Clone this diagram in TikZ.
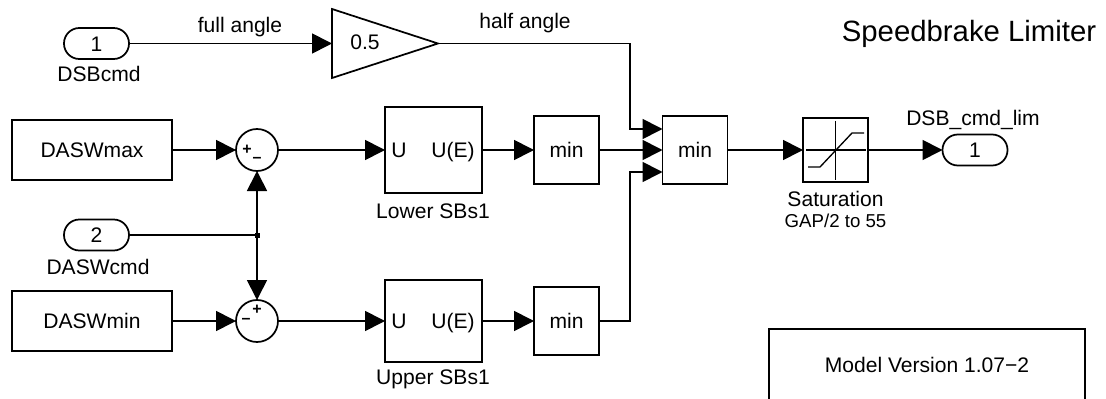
\documentclass[tikz,border=0pt]{standalone}
\usepackage{fontspec}
\setmainfont{Liberation Sans}
\usetikzlibrary{arrows.meta}
\def\pu{0.75pt}
\tikzset{
  lbl/.style={anchor=base,inner sep=0pt,font=\fontsize{15.8pt}{18pt}\selectfont},
  box/.style={draw,line width=1.3pt,inner sep=0pt,outer sep=0pt,font=\fontsize{15.8pt}{18pt}\selectfont,text height=11.4pt,text depth=0pt},
  port/.style={box,rounded corners=11.5pt,minimum width=65*\pu,minimum height=31*\pu},
  sumc/.style={draw,circle,line width=1.3pt,inner sep=0pt,outer sep=0pt,minimum size=42*\pu},
  sgn/.style={inner sep=0pt,font=\bfseries\fontsize{12pt}{12pt}\selectfont},
  conn/.style={line width=1.3pt,-{Triangle[length=15pt,width=15pt]}},
  wire/.style={line width=1.3pt},
}
\begin{document}
\begin{tikzpicture}[x=0.75pt,y=-0.75pt]
\useasboundingbox (0,0) rectangle (1106,399);
% inports and constants
\node[port] (in1) at (96.5,43.5) {1};
\node[lbl] (l1) at (99,82) {DSBcmd};
\node[port] (in2) at (96.5,235) {2};
\node[lbl] (l2) at (98,274) {DASWcmd};
\node[box,minimum width=160*\pu,minimum height=60*\pu] (dmax) at (92,150) {DASWmax};
\node[box,minimum width=160*\pu,minimum height=60*\pu] (dmin) at (92,321) {DASWmin};
% gain
\coordinate (gin) at (332,43.5);
\coordinate (gout) at (438,43.5);
\draw[wire,line join=miter] (332,9) -- (gout) -- (332,78) -- cycle;
\node[lbl] (gv) at (365,50) {0.5};
% sums
\node[sumc] (s1) at (257,150) {};
\node[sgn] (s1p) at (247,150) {+};
\node[sgn] (s1m) at (257,160) {–};
\node[sumc] (s2) at (257,321) {};
\node[sgn] (s2p) at (257,310) {+};
\node[sgn] (s2m) at (246,321) {–};
\node[fill,inner sep=0pt,minimum size=5*\pu] (jn) at (257,235) {};
% subsystems
\node[box,minimum width=97*\pu,minimum height=86*\pu] (lo) at (433.5,150) {};
\node[lbl] (loU) at (399,157) {U};
\node[lbl,anchor=base east] (loE) at (475,157) {U(E)};
\node[lbl] (loL) at (433,218) {Lower SBs1};
\node[box,minimum width=97*\pu,minimum height=82*\pu] (up) at (433.5,321) {};
\node[lbl] (upU) at (399,328) {U};
\node[lbl,anchor=base east] (upE) at (475,328) {U(E)};
\node[lbl] (upL) at (433,384) {Upper SBs1};
% min blocks
\node[box,minimum width=65*\pu,minimum height=68*\pu] (m1) at (566.5,150) {min};
\node[box,minimum width=65*\pu,minimum height=68*\pu] (m2) at (566.5,321) {min};
\node[box,minimum width=65*\pu,minimum height=68*\pu] (m3) at (695,150) {min};
% saturation
\node[box,minimum width=65*\pu,minimum height=64*\pu] (sat) at (835.5,150) {};
\draw[line width=1pt] (806,150) -- (866,150) (835.5,121) -- (835.5,180);
\draw[line width=1pt] (808,167) -- (820,167) -- (852,133) -- (864,133);
\node[lbl] (satL) at (835.5,206) {Saturation};
\node[lbl,font=\fontsize{14pt}{16pt}\selectfont] (satG) at (835.5,227) {GAP/2 to 55};
% outport
\node[port] (out) at (975,150) {1};
\node[lbl] (outL) at (973,126) {DSB\_cmd\_lim};
% signal labels
\node[lbl] (fa) at (240,33) {full angle};
\node[lbl] (ha) at (525,29) {half angle};
% title and version
\node[lbl,font=\fontsize{22pt}{26pt}\selectfont] (title) at (969,41.5) {Speedbrake Limiter};
\node[box,minimum width=316*\pu,minimum height=71*\pu] (ver) at (927,364.5) {};
\node[lbl] (verT) at (927,372) {Model Version 1.07−2};
% routing points
\coordinate (r1) at (630,43.5);
\coordinate (r2) at (630,129);
\coordinate (t1) at (m3.west |- r2);
\coordinate (t2) at (m3.west);
\coordinate (r3) at (630,321);
\coordinate (r4) at (630,172);
\coordinate (t3) at (m3.west |- r4);
% connectors
\draw[conn] (in1.east) -- (gin);
\draw[conn] (dmax.east) -- (s1.west);
\draw[conn] (dmin.east) -- (s2.west);
\draw[wire] (in2.east) -- (jn.center);
\draw[conn] (jn.center) -- (s1.south);
\draw[conn] (jn.center) -- (s2.north);
\draw[conn] (s1.east) -- (lo.west);
\draw[conn] (s2.east) -- (up.west);
\draw[conn] (lo.east) -- (m1.west);
\draw[conn] (up.east) -- (m2.west);
\draw[conn] (gout) -- (r1) -- (r2) -- (t1);
\draw[conn] (m1.east) -- (t2);
\draw[conn] (m2.east) -- (r3) -- (r4) -- (t3);
\draw[conn] (m3.east) -- (sat.west);
\draw[conn] (sat.east) -- (out.west);
\end{tikzpicture}
\end{document}
